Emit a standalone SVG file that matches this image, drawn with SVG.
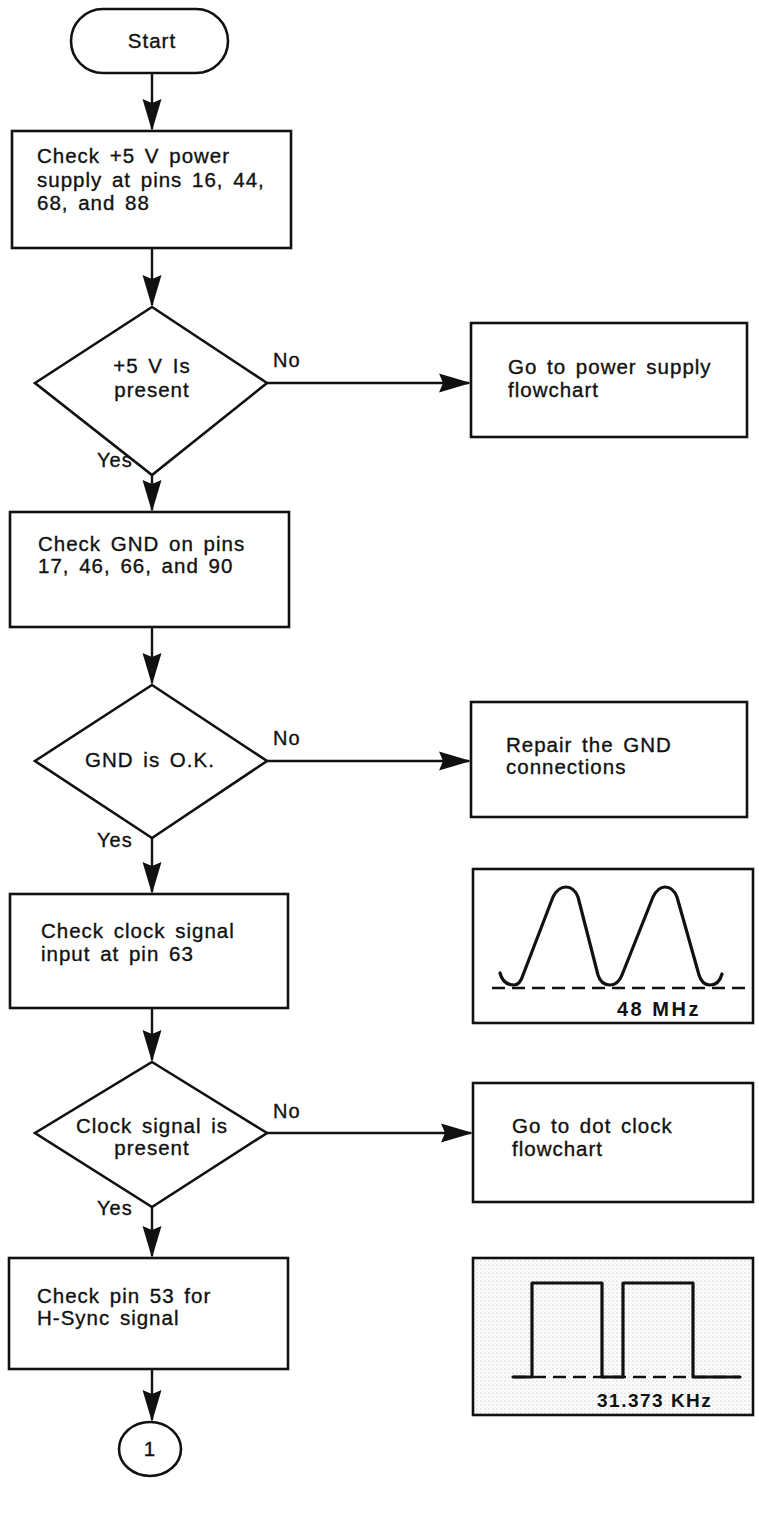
<svg xmlns="http://www.w3.org/2000/svg" width="759" height="1514" viewBox="0 0 759 1514">
<style>
  .shape { fill: #ffffff; stroke: #111111; stroke-width: 2.6; }
  .txt { font-family: "Liberation Sans", Arial, sans-serif; font-size: 20.5px; fill: #111111; stroke: #111111; stroke-width: 0.35; letter-spacing: 1px; word-spacing: 3px; }
  .mid { text-anchor: middle; }
  .lbl { font-family: "Liberation Sans", Arial, sans-serif; font-size: 20px; fill: #111111; stroke: #111111; stroke-width: 0.35; letter-spacing: 1px; }
  .wlbl { font-family: "Liberation Sans", Arial, sans-serif; font-weight: bold; fill: #111111; }
  .conn { fill: none; stroke: #111111; stroke-width: 2.4; marker-end: url(#arrow); }
  .wave { fill: none; stroke: #111111; stroke-width: 3.2; stroke-linejoin: round; stroke-linecap: round; }
  .dash { fill: none; stroke: #111111; stroke-width: 2.6; stroke-dasharray: 13 7; }
</style>
<defs>
  <marker id="arrow" markerUnits="userSpaceOnUse" viewBox="0 -10 34 20" markerWidth="34" markerHeight="20" refX="30" refY="0" orient="auto">
    <path d="M0,-9.5 L32,0 L0,9.5 L4,0 Z" fill="#111111"/>
  </marker>
  <pattern id="stipple" width="4" height="4" patternUnits="userSpaceOnUse">
    <rect width="4" height="4" fill="#ffffff"/>
    <circle cx="1" cy="1" r="0.6" fill="#9a9a9a"/>
    <circle cx="3" cy="3" r="0.45" fill="#b4b4b4"/>
  </pattern>
  <pattern id="speckle" width="9" height="9" patternUnits="userSpaceOnUse">
    <rect width="9" height="9" fill="#ffffff"/>
    <circle cx="2" cy="3" r="0.45" fill="#cccccc"/>
  </pattern>
</defs>

<g id="connectors">
  <line class="conn" x1="152" y1="73" x2="152" y2="129"/>
  <line class="conn" x1="152" y1="248" x2="152" y2="305"/>
  <line class="conn" x1="267" y1="383" x2="469" y2="383"/>
  <line class="conn" x1="152" y1="475" x2="152" y2="510"/>
  <line class="conn" x1="152" y1="627" x2="152" y2="683"/>
  <line class="conn" x1="267" y1="761" x2="469" y2="761"/>
  <line class="conn" x1="152" y1="838" x2="152" y2="892"/>
  <line class="conn" x1="152" y1="1008" x2="152" y2="1060"/>
  <line class="conn" x1="267" y1="1133" x2="471" y2="1133"/>
  <line class="conn" x1="152" y1="1207" x2="152" y2="1256"/>
  <line class="conn" x1="152" y1="1369" x2="152" y2="1420"/>
  <text class="lbl" x="273" y="367">No</text>
  <text class="lbl" x="97" y="467">Yes</text>
  <text class="lbl" x="273" y="745">No</text>
  <text class="lbl" x="97" y="847">Yes</text>
  <text class="lbl" x="273" y="1118">No</text>
  <text class="lbl" x="97" y="1215">Yes</text>
</g>

<g id="start">
  <rect class="shape" x="71" y="9" width="157" height="64" rx="32" ry="32"/>
  <text class="txt mid" x="152" y="48">Start</text>
</g>

<g id="check-5v">
  <rect class="shape" x="12" y="131" width="279" height="117"/>
  <text class="txt" x="37" y="163">Check +5 V power</text>
  <text class="txt" x="37" y="187">supply at pins 16, 44,</text>
  <text class="txt" x="37" y="210">68, and 88</text>
</g>

<g id="dec-5v">
  <polygon class="shape" points="152,307 267,383 152,475 35,383"/>
  <text class="txt mid" x="152" y="373">+5 V Is</text>
  <text class="txt mid" x="152" y="397">present</text>
</g>

<g id="power-flow">
  <rect class="shape" x="471" y="323" width="276" height="114"/>
  <text class="txt" x="508" y="374">Go to power supply</text>
  <text class="txt" x="508" y="397">flowchart</text>
</g>

<g id="check-gnd">
  <rect class="shape" x="10" y="512" width="279" height="115"/>
  <text class="txt" x="38" y="551">Check GND on pins</text>
  <text class="txt" x="38" y="573">17, 46, 66, and 90</text>
</g>

<g id="dec-gnd">
  <polygon class="shape" points="152,685 267,761 152,838 35,761"/>
  <text class="txt mid" x="150" y="767">GND is O.K.</text>
</g>

<g id="repair-gnd">
  <rect class="shape" x="471" y="702" width="276" height="115"/>
  <text class="txt" x="506" y="752">Repair the GND</text>
  <text class="txt" x="506" y="774">connections</text>
</g>

<g id="check-clock">
  <rect class="shape" x="10" y="894" width="278" height="114"/>
  <text class="txt" x="41" y="938">Check clock signal</text>
  <text class="txt" x="41" y="961">input at pin 63</text>
</g>

<g id="wave-48mhz">
  <rect x="473" y="869" width="280" height="154" fill="url(#speckle)" stroke="#111111" stroke-width="2.6"/>
  <line class="dash" x1="492" y1="988" x2="746" y2="988"/>
  <path class="wave" d="M500,973 Q503,985 514,985 Q520,985 523,975 L553,897 Q558,887 566,887 Q574,887 578,897 L598,975 Q601,985 610,985 Q618,985 622,975 L653,897 Q658,887 665,887 Q673,887 677,897 L699,975 Q702,985 710,985 Q719,985 722,974"/>
  <text class="wlbl" x="617" y="1016" font-size="20" letter-spacing="2.5">48 MHz</text>
</g>

<g id="dec-clock">
  <polygon class="shape" points="152,1062 267,1133 152,1207 35,1133"/>
  <text class="txt mid" x="152" y="1133">Clock signal is</text>
  <text class="txt mid" x="152" y="1155">present</text>
</g>

<g id="dot-clock-flow">
  <rect class="shape" x="473" y="1083" width="280" height="119"/>
  <text class="txt" x="512" y="1133">Go to dot clock</text>
  <text class="txt" x="512" y="1156">flowchart</text>
</g>

<g id="check-hsync">
  <rect class="shape" x="9" y="1258" width="279" height="111"/>
  <text class="txt" x="37" y="1303">Check pin 53 for</text>
  <text class="txt" x="37" y="1325">H-Sync signal</text>
</g>

<g id="wave-hsync">
  <rect x="473" y="1258" width="280" height="157" fill="url(#stipple)" stroke="#111111" stroke-width="2.6"/>
  <line class="dash" x1="513" y1="1377" x2="740" y2="1377"/>
  <path class="wave" stroke-linecap="butt" d="M513,1377 H532 V1283 H602 V1377 H623 V1283 H693 V1377 H740"/>
  <text class="wlbl" x="597" y="1407" font-size="19" letter-spacing="1.5">31.373 KHz</text>
</g>

<g id="connector-1">
  <ellipse class="shape" cx="150" cy="1449" rx="31" ry="27"/>
  <text class="txt mid" x="150" y="1456">1</text>
</g>
</svg>
